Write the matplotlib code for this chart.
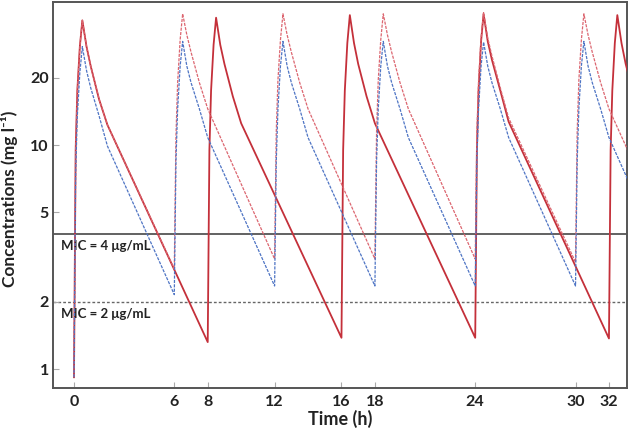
import matplotlib
matplotlib.use("Agg")
from matplotlib import pyplot as plt
from matplotlib.ticker import FixedLocator, NullLocator

# q6h, lower dose (blue dashed)
blue_t = [0, 0.1, 0.2, 0.35, 0.5, 0.75, 1.0, 1.5, 2.0,
          6.0, 6.1, 6.2, 6.35, 6.5, 6.75, 7.0, 7.5, 8.0,
          12.0, 12.1, 12.2, 12.35, 12.5, 12.75, 13.0, 13.5, 14.0,
          18.0, 18.1, 18.2, 18.35, 18.5, 18.75, 19.0, 19.5, 20.0,
          24.0, 24.1, 24.2, 24.35, 24.5, 24.75, 25.0, 25.5, 26.0,
          30.0, 30.1, 30.2, 30.35, 30.5, 30.75, 31.0, 31.5, 32.0, 34.0]
blue_c = [0.92, 7.5, 13.5, 21, 27.5, 21.5, 18, 13.5, 9.9,
          2.15, 8.5, 14.5, 22.5, 29, 22.5, 19, 14.5, 10.8,
          2.35, 8.5, 14.5, 22.5, 29, 22.5, 19, 14.5, 10.8,
          2.35, 8.5, 14.5, 22.5, 29, 22.5, 19, 14.5, 10.8,
          2.35, 8.5, 14.5, 22.5, 28.8, 22.5, 19, 14.5, 10.8,
          2.35, 8.5, 14.5, 22.5, 29, 22.5, 19, 14.5, 10.8, 5.0]

# q6h, higher dose (red dashed)
red_q6_t = [0, 0.1, 0.2, 0.35, 0.5, 0.75, 1.0, 1.5, 2.0,
            6.0, 6.1, 6.2, 6.35, 6.5, 6.75, 7.0, 7.5, 8.0,
            12.0, 12.1, 12.2, 12.35, 12.5, 12.75, 13.0, 13.5, 14.0,
            18.0, 18.1, 18.2, 18.35, 18.5, 18.75, 19.0, 19.5, 20.0,
            24.0, 24.1, 24.2, 24.35, 24.5, 24.75, 25.0, 25.5, 26.0,
            30.0, 30.1, 30.2, 30.35, 30.5, 30.75, 31.0, 31.5, 32.0, 34.0]
red_q6_c = [0.92, 9.5, 17.5, 27.5, 36, 27.5, 22.5, 16, 12.3,
            2.8, 11, 19, 29.5, 38.5, 31, 26, 19, 14.5,
            3.1, 11.5, 19.5, 29.5, 38.5, 31, 26, 19, 14.5,
            3.1, 11.5, 19.5, 29.5, 38.5, 31, 26, 19, 14.5,
            3.1, 11.5, 19.5, 30, 39, 30, 25, 18, 13.2,
            3.0, 11.5, 19.5, 29.5, 38.5, 31, 26, 19, 14.5, 6.8]

# q8h (red solid)
red_q8_t = [0, 0.1, 0.2, 0.35, 0.5, 0.75, 1.0, 1.5, 2.0,
            8.0, 8.1, 8.2, 8.35, 8.5, 8.75, 9.0, 9.5, 10.0,
            16.0, 16.1, 16.2, 16.35, 16.5, 16.75, 17.0, 17.5, 18.0,
            24.0, 24.1, 24.2, 24.35, 24.5, 24.75, 25.0, 25.5, 26.0,
            32.0, 32.1, 32.2, 32.35, 32.5, 32.75, 33.0, 33.5, 34.0]
red_q8_c = [0.92, 9.5, 17.5, 27.5, 36, 27.5, 22.5, 16, 12.3,
            1.32, 9.5, 17.5, 28, 37, 28, 23, 16.5, 12.5,
            1.38, 9.5, 17.5, 28.5, 38, 28.5, 23, 16.5, 12.5,
            1.38, 9.5, 17.5, 29, 38.5, 29, 24, 17.5, 12.7,
            1.37, 9.5, 17.5, 28.5, 38, 28.5, 23, 16.5, 12.5]

mic_values = [4, 2]
mic_labels = ["MIC = 4 \u03bcg/mL", "MIC = 2 \u03bcg/mL"]
x_ticks = [0, 6, 8, 12, 16, 18, 24, 30, 32]
y_ticks = [1, 2, 5, 10, 20]

plt.rcParams['font.family'] = ['Lato', 'DejaVu Sans']

fig = plt.figure(figsize=(6.3, 4.33), dpi=100)
ax = fig.add_axes([0.084, 0.104, 0.911, 0.891])

ax.axhline(mic_values[0], color='#555555', lw=1.3, zorder=1)
ax.axhline(mic_values[1], color='#666666', lw=1.0, ls=(0, (2, 1.5)), zorder=1)

ax.plot(red_q8_t, red_q8_c, color='#c4303a', lw=1.3, zorder=3)
ax.plot(red_q6_t, red_q6_c, color='#dc6670', lw=0.9, ls=(0, (2.5, 1)), zorder=4)
ax.plot(blue_t, blue_c, color='#4e74c4', lw=0.9, ls=(0, (2.5, 1)), zorder=5)

ax.text(-0.8, 3.75, mic_labels[0], fontsize=9.5, fontweight='bold', color='#222222', va='top')
ax.text(-0.8, 1.88, mic_labels[1], fontsize=9.5, fontweight='bold', color='#222222', va='top')

ax.set_yscale('log')
ax.set_xlim(-1.26, 33.07)
ax.set_ylim(0.824, 43.4)
ax.xaxis.set_major_locator(FixedLocator(x_ticks))
ax.yaxis.set_major_locator(FixedLocator(y_ticks))
ax.yaxis.set_minor_locator(NullLocator())
ax.set_xticklabels([str(v) for v in x_ticks])
ax.set_yticklabels([str(v) for v in y_ticks])
ax.tick_params(direction='in', length=4, color='#aaaaaa', labelsize=11.5, labelcolor='#222222')
ax.tick_params(axis='x', pad=5)
ax.tick_params(axis='y', pad=3)
for lab in ax.get_xticklabels() + ax.get_yticklabels():
    lab.set_fontweight('bold')

for sp in ax.spines.values():
    sp.set_color('#555555')
    sp.set_linewidth(1.4)

ax.set_xlabel("Time (h)", fontsize=13, fontweight='bold', color='#222222', labelpad=1)
ax.set_ylabel("Concentrations (mg l\u207b\u00b9)", fontsize=12.5, fontweight='bold', color='#222222')
ax.yaxis.set_label_coords(-0.061, 0.49)

plt.savefig("out.png", dpi=100)
